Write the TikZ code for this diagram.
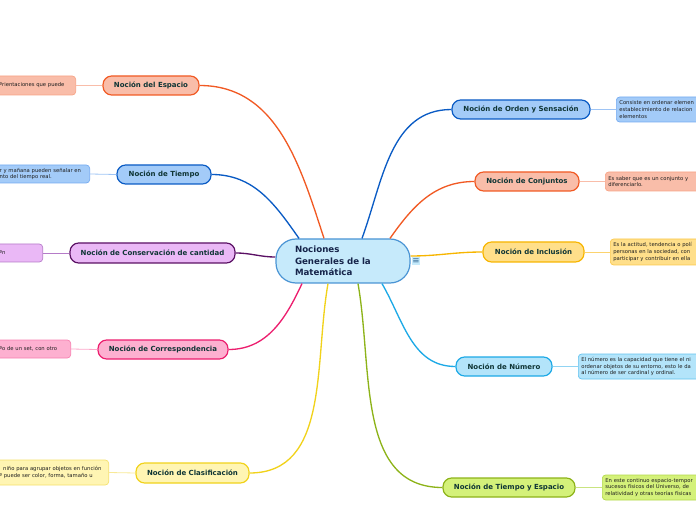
\documentclass[tikz,border=0pt]{standalone}
\usepackage{fontspec}
\setmainfont{DejaVu Sans}
\usetikzlibrary{calc}
\definecolor{txt}{HTML}{0F3535}
\definecolor{leaftxt}{HTML}{1E1E1E}
\definecolor{centxt}{HTML}{16244A}
\definecolor{cenF}{HTML}{C6EAFB}
\definecolor{cenL}{HTML}{4A94D4}
\definecolor{orL}{HTML}{F15A24}\definecolor{orF}{HTML}{F9BDA9}\definecolor{orB}{HTML}{F7A385}
\definecolor{blL}{HTML}{0A5BC4}\definecolor{blF}{HTML}{A3CBF8}\definecolor{blB}{HTML}{74AAF0}
\definecolor{puL}{HTML}{5A1064}\definecolor{puF}{HTML}{EAB8F6}\definecolor{puB}{HTML}{B57BC8}
\definecolor{piL}{HTML}{EC1E6E}\definecolor{piF}{HTML}{FDB0D0}\definecolor{piB}{HTML}{F77FAF}
\definecolor{yeL}{HTML}{F1D21B}\definecolor{yeF}{HTML}{FFF5B3}\definecolor{yeB}{HTML}{F5E06A}
\definecolor{goL}{HTML}{F7B500}\definecolor{goF}{HTML}{FFDF8A}\definecolor{goB}{HTML}{FBC84A}
\definecolor{cyL}{HTML}{1DA9E6}\definecolor{cyF}{HTML}{B3E4FA}\definecolor{cyB}{HTML}{62C2EE}
\definecolor{grL}{HTML}{8DB319}\definecolor{grF}{HTML}{D4F17A}\definecolor{grB}{HTML}{B2D84A}
\tikzset{
  branch/.style={draw, line width=0.9pt, rounded corners=6.5pt, font=\bfseries\fontsize{5.25}{6}\selectfont, text=txt, inner sep=0pt},
  leaf/.style={draw, line width=0.5pt, rounded corners=2.5pt, font=\fontsize{3.95}{5}\selectfont, text=leaftxt, align=left, inner xsep=2.25pt, inner ysep=0pt},
  lleaf/.style={leaf, anchor=east},
  rleaf/.style={leaf, anchor=west, text width=112.5pt},
  conn/.style={line width=1pt},
  leafline/.style={line width=0.6pt},
}
\begin{document}
\begin{tikzpicture}[x=0.75pt,y=-0.75pt]
\useasboundingbox (0,0) rectangle (696,520);
\clip (0,0) rectangle (696,520);
% center
\node[draw=cenL, fill=cenF, line width=0.9pt, rounded corners=15pt, minimum width=100.5pt, minimum height=33pt,
  text width=72pt, inner xsep=14.25pt, align=left, text=centxt,
  font=\bfseries\fontsize{6.5}{8.6}\selectfont] (c) at (343,261) {Nociones\\Generales de la\\Matemática};
\node[fill=cenF, minimum size=6.5pt, inner sep=0pt, text=cenL!70!black, font=\fontsize{6.5}{6.5}\selectfont] (ic) at (416,261) {≡};
% branches
\node[branch, draw=orL, fill=orF, minimum width=72pt, minimum height=14.25pt] (b1) at (151,85.5) {Noción del Espacio};
\node[branch, draw=blL, fill=blF, minimum width=70.5pt, minimum height=14.25pt] (b2) at (164,174.5) {Noción de Tiempo};
\node[branch, draw=puL, fill=puF, minimum width=123.75pt, minimum height=15pt] (b3) at (152.5,253) {Noción de Conservación de cantidad};
\node[branch, draw=piL, fill=piF, minimum width=97.5pt, minimum height=14.25pt] (b4) at (163,349.5) {Noción de Correspondencia};
\node[branch, draw=yeL, fill=yeF, minimum width=84.75pt, minimum height=15pt] (b5) at (192.5,473) {Noción de Clasificación};
\node[branch, draw=blL, fill=blF, minimum width=103.5pt, minimum height=14.25pt] (b6) at (521,109.5) {Noción de Orden y Sensación};
\node[branch, draw=orL, fill=orF, minimum width=78pt, minimum height=14.25pt] (b7) at (527,181.5) {Noción de Conjuntos};
\node[branch, draw=goL, fill=goF, minimum width=75.75pt, minimum height=15pt] (b8) at (533.5,252) {Noción de Inclusión};
\node[branch, draw=cyL, fill=cyF, minimum width=72pt, minimum height=14.25pt] (b9) at (504,366.5) {Noción de Número};
\node[branch, draw=grL, fill=grF, minimum width=99pt, minimum height=14.25pt] (b10) at (509,487.5) {Noción de Tiempo y Espacio};
% leaves left
\node[lleaf, draw=orB, fill=orF, text width=54.75pt, minimum height=14.25pt] (l1) at (76,85.5) {ºrientaciones que puede};
\node[lleaf, draw=blB, fill=blF, text width=65.25pt, minimum height=13.5pt] (l2) at (90,174) {r y mañana pueden señalar en\\nto del tiempo real.};
\node[lleaf, draw=puB, fill=puF, text width=30pt, minimum height=13.5pt] (l3) at (43,253) {ºn};
\node[lleaf, draw=piB, fill=piF, text width=51pt, minimum height=13.5pt] (l4) at (71,349) {ºo de un set, con otro};
\node[lleaf, draw=yeB, fill=yeF, text width=79.5pt, minimum height=18.75pt] (l5) at (109,472.5) {\ \ niño para agrupar objetos en función\\º puede ser color, forma, tamaño u};
% leaves right
\node[rleaf, draw=blB, fill=blF, minimum height=18.75pt] (r6) at (616,109.5) {Consiste en ordenar elemen\\establecimiento de relacion\\elementos};
\node[rleaf, draw=orB, fill=orF, minimum height=14.25pt] (r7) at (605,181.5) {Es saber que es un conjunto y\\diferenciarlo.};
\node[rleaf, draw=goB, fill=goF, minimum height=19.5pt] (r8) at (610,252) {Es la actitud, tendencia o polí\\personas en la sociedad, con\\participar y contribuir en ella};
\node[rleaf, draw=cyB, fill=cyF, minimum height=18.75pt] (r9) at (578,366.5) {El número es la capacidad que tiene el ni\\ordenar objetos de su entorno, esto le da\\al número de ser cardinal y ordinal.};
\node[rleaf, draw=grB, fill=grF, minimum height=18.75pt] (r10) at (602,487.5) {En este continuo espacio-tempor\\sucesos físicos del Universo, de\\relatividad y otras teorías físicas};
% leaf connectors
\draw[leafline, orF] (b1.west) -- (l1.east);
\draw[leafline, blB!70] (b2.west) -- (l2.east);
\draw[leafline, puB] (b3.west) -- (l3.east);
\draw[leafline, piF!80!piB] (b4.west) -- (l4.east);
\draw[leafline, yeB!70] (b5.west) -- (l5.east);
\draw[leafline, blB!70] (b6.east) -- (r6.west);
\draw[leafline, orF] (b7.east) -- (r7.west);
\draw[leafline, goB!80] (b8.east) -- (r8.west);
\draw[leafline, cyB!70] (b9.east) -- (r9.west);
\draw[leafline, grB!70] (b10.east) -- (r10.west);
% main connectors
\draw[conn, orL] ([xshift=-14.25pt]c.north) to[out=108,in=0] (b1.east);
\draw[conn, blL] ([xshift=-33pt]c.north) to[out=125,in=0] (b2.east);
\draw[conn, puL] ([yshift=3pt]c.west) to[out=180,in=0] (b3.east);
\draw[conn, piL] ([xshift=-30.75pt]c.south) to[out=-115,in=0] (b4.east);
\draw[conn, yeL] ([xshift=-11.25pt]c.south) to[out=-100,in=0] (b5.east);
\draw[conn, blL] ([xshift=14.25pt]c.north) to[out=70,in=180] (b6.west);
\draw[conn, orL] ([xshift=35.25pt]c.north) to[out=55,in=180] (b7.west);
\draw[conn, goL] ([yshift=3.75pt]c.east) to[out=0,in=180] (b8.west);
\draw[conn, cyL] ([xshift=29.25pt]c.south) to[out=-60,in=180] (b9.west);
\draw[conn, grL] ([xshift=11.25pt]c.south) to[out=-80,in=180] (b10.west);
\end{tikzpicture}
\end{document}
